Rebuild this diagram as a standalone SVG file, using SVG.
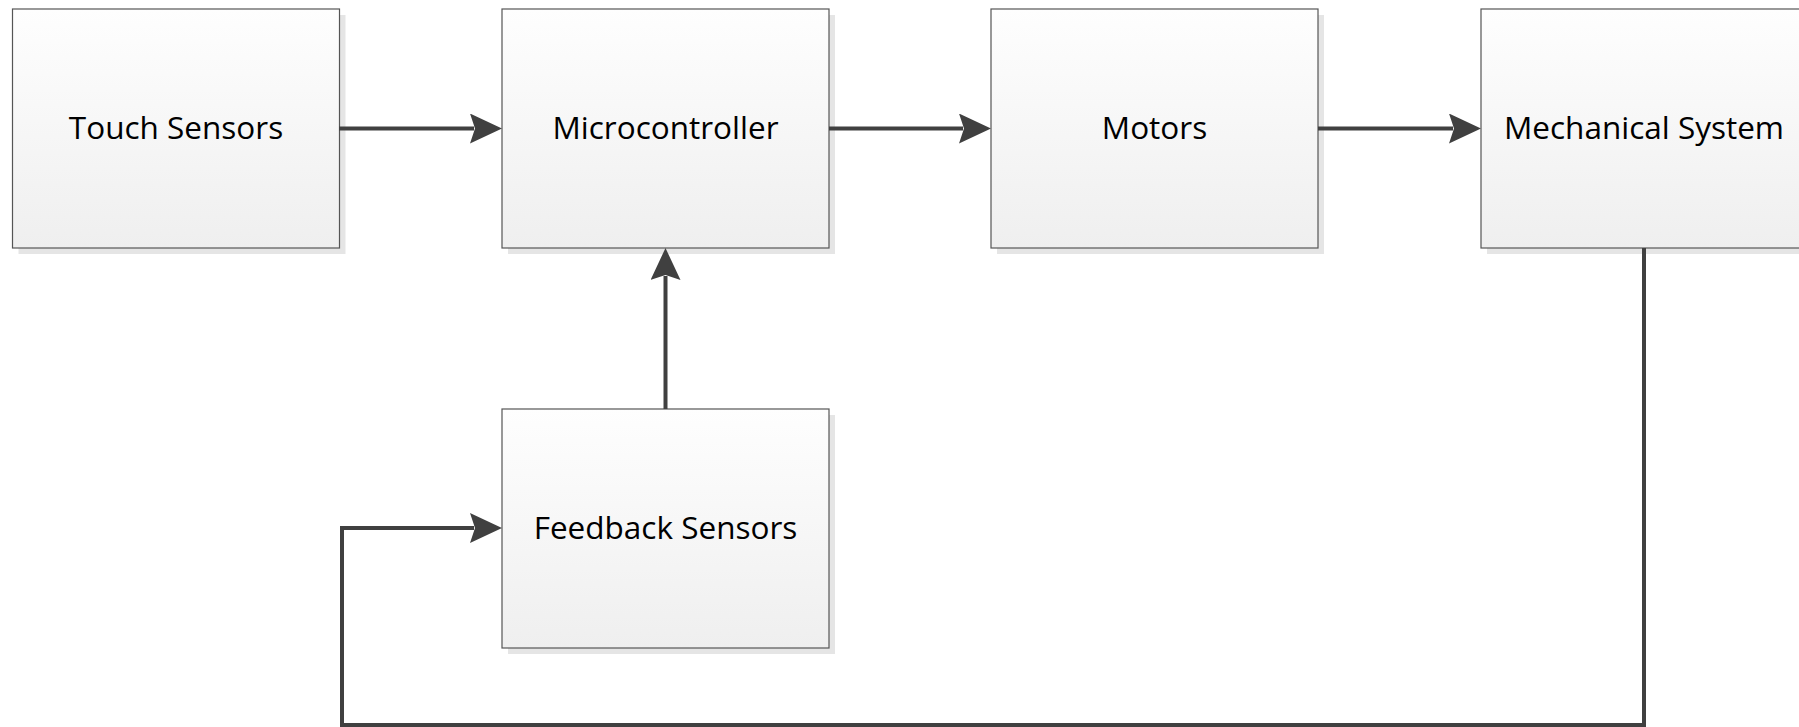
<svg xmlns="http://www.w3.org/2000/svg" width="1799" height="727" viewBox="0 0 1799 727">
<defs>
<linearGradient id="fill" x1="0" y1="0" x2="0" y2="1">
<stop offset="0" stop-color="#fefefe"/>
<stop offset="1" stop-color="#efefef"/>
</linearGradient>
<marker id="arr" markerUnits="userSpaceOnUse" viewBox="0 0 32 30" markerWidth="32" markerHeight="30" refX="4" refY="15" orient="auto">
<path d="M0,0 L32,15 L0,30 L5,15 Z" fill="#404040"/>
</marker>
</defs>
<style>
.shadow{fill:#e5e5e5;}
.box{fill:url(#fill);stroke:#555555;stroke-width:1.2;}
.lbl{font-family:"Open Sans","Liberation Sans",sans-serif;font-size:31.5px;fill:#000;text-anchor:middle;}
.conn{fill:none;stroke:#404040;stroke-width:4;stroke-linecap:butt;stroke-linejoin:miter;}
</style>
<rect width="1799" height="727" fill="#fff"/>
<g id="touch-sensors">
<rect class="shadow" x="18.5" y="15" width="327" height="239"/>
<rect class="box" x="12.5" y="9" width="327" height="239"/>
<text class="lbl" x="176" y="139">Touch Sensors</text>
</g>
<g id="microcontroller">
<rect class="shadow" x="508" y="15" width="327" height="239"/>
<rect class="box" x="502" y="9" width="327" height="239"/>
<text class="lbl" x="665.5" y="139">Microcontroller</text>
</g>
<g id="motors">
<rect class="shadow" x="997" y="15" width="327" height="239"/>
<rect class="box" x="991" y="9" width="327" height="239"/>
<text class="lbl" x="1154.5" y="139">Motors</text>
</g>
<g id="mechanical-system">
<rect class="shadow" x="1487" y="15" width="327" height="239"/>
<rect class="box" x="1481" y="9" width="327" height="239"/>
<text class="lbl" x="1644" y="139">Mechanical System</text>
</g>
<g id="feedback-sensors">
<rect class="shadow" x="508" y="415" width="327" height="239"/>
<rect class="box" x="502" y="409" width="327" height="239"/>
<text class="lbl" x="665.5" y="538.5">Feedback Sensors</text>
</g>
<g id="connectors">
<path class="conn" d="M339,128.5 H474" marker-end="url(#arr)"/>
<path class="conn" d="M829,128.5 H963" marker-end="url(#arr)"/>
<path class="conn" d="M1318,128.5 H1453" marker-end="url(#arr)"/>
<path class="conn" d="M665.5,409 V276" marker-end="url(#arr)"/>
<path class="conn" d="M1644,248 V725 H342 V528 H474" marker-end="url(#arr)"/>
</g>
</svg>
